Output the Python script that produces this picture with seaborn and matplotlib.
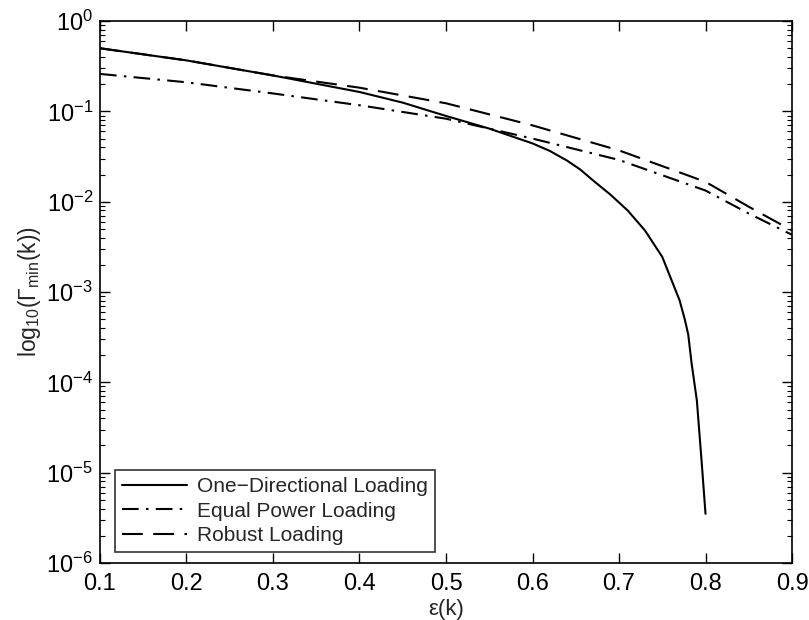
import numpy as np
import pandas as pd
import matplotlib
matplotlib.use("Agg")
import matplotlib.pyplot as plt
import seaborn as sns
from matplotlib.ticker import LogLocator, FixedLocator
from matplotlib.lines import Line2D

# Data
x_one = [0.1, 0.2, 0.3, 0.4, 0.45, 0.5, 0.55, 0.6, 0.62, 0.64, 0.655, 0.67, 0.69, 0.71,
         0.73, 0.75, 0.764, 0.77, 0.776, 0.78, 0.784, 0.79, 0.793, 0.796, 0.8]
y_one = [0.50, 0.367, 0.25, 0.164, 0.125, 0.089, 0.0645, 0.0442, 0.0365, 0.0285, 0.0228,
         0.0172, 0.0120, 0.0080, 0.0048, 0.00245, 0.00113, 8.1e-4, 5.0e-4, 3.4e-4,
         1.6e-4, 6.3e-5, 2.7e-5, 1.15e-5, 3.5e-6]

x_eq = [0.1, 0.2, 0.3, 0.4, 0.5, 0.6, 0.7, 0.8, 0.85, 0.9]
y_eq = [0.26, 0.21, 0.158, 0.117, 0.083, 0.050, 0.029, 0.0133, 0.0074, 0.0043]

x_rob = [0.1, 0.2, 0.3, 0.4, 0.5, 0.6, 0.7, 0.8, 0.85, 0.9]
y_rob = [0.50, 0.367, 0.25, 0.183, 0.123, 0.070, 0.037, 0.0166, 0.0088, 0.0048]

names = ["One\u2212Directional Loading", "Equal Power Loading", "Robust Loading"]
x_ticks = [0.1, 0.2, 0.3, 0.4, 0.5, 0.6, 0.7, 0.8, 0.9]

df = pd.concat([
    pd.DataFrame({"eps": x_one, "gamma": y_one, "method": names[0]}),
    pd.DataFrame({"eps": x_eq, "gamma": y_eq, "method": names[1]}),
    pd.DataFrame({"eps": x_rob, "gamma": y_rob, "method": names[2]}),
], ignore_index=True)

sns.set_theme(style="ticks")
plt.rcParams["font.family"] = ["Liberation Sans", "DejaVu Sans"]
plt.rcParams["mathtext.fontset"] = "custom"
plt.rcParams["mathtext.rm"] = "Liberation Sans"
plt.rcParams["mathtext.it"] = "Liberation Sans"
plt.rcParams["mathtext.bf"] = "Liberation Sans:bold"

fig = plt.figure(figsize=(8.09, 6.2), dpi=100)
ax = fig.add_axes([0.1236, 0.092, 0.979 - 0.1236, 0.966 - 0.092])

lw = 1.5
dd = (8, 3.5, 1.2, 3.5)
da = (10, 5)
dashes = {names[0]: "", names[1]: dd, names[2]: da}
sns.lineplot(data=df, x="eps", y="gamma", style="method", dashes=dashes,
             color="black", linewidth=lw, ax=ax, legend=False, sort=False,
             estimator=None)

ax.set_yscale("log")
ax.set_xlim(0.1, 0.9)
ax.set_ylim(1e-6, 1e0)
ax.xaxis.set_major_locator(FixedLocator(x_ticks))
ax.set_xticklabels([f"{t:.1f}" for t in x_ticks])
ax.yaxis.set_major_locator(LogLocator(base=10, numticks=10))
ax.yaxis.set_minor_locator(LogLocator(base=10, subs=np.arange(2, 10), numticks=20))

ax.tick_params(which="both", direction="in", top=True, right=True, colors="black",
               labelsize=17)
ax.tick_params(which="major", length=7, width=1)
ax.tick_params(which="minor", length=3.5, width=0.8)
ax.tick_params(axis="x", pad=7)
ax.tick_params(axis="y", pad=5)
for s in ax.spines.values():
    s.set_linewidth(1.2)
    s.set_color("black")

ax.set_xlabel("\u03b5(k)", fontsize=16, labelpad=3)
ax.set_ylabel(r"log$_{10}$($\Gamma_{\rm min}$(k))", fontsize=16.5, labelpad=2)

handles = [Line2D([], [], color="black", lw=lw, linestyle="-"),
           Line2D([], [], color="black", lw=lw, linestyle=(0, dd)),
           Line2D([], [], color="black", lw=lw, linestyle=(0, da))]
leg = ax.legend(handles, names, loc="lower left", bbox_to_anchor=(0.0217, 0.02),
                fontsize=15, frameon=True, fancybox=False, handlelength=3.1,
                borderpad=0.35, labelspacing=0.25, handletextpad=0.5, borderaxespad=0)
leg.get_frame().set_edgecolor("black")
leg.get_frame().set_linewidth(1.2)

fig.savefig("out.png", dpi=100, facecolor="white")
